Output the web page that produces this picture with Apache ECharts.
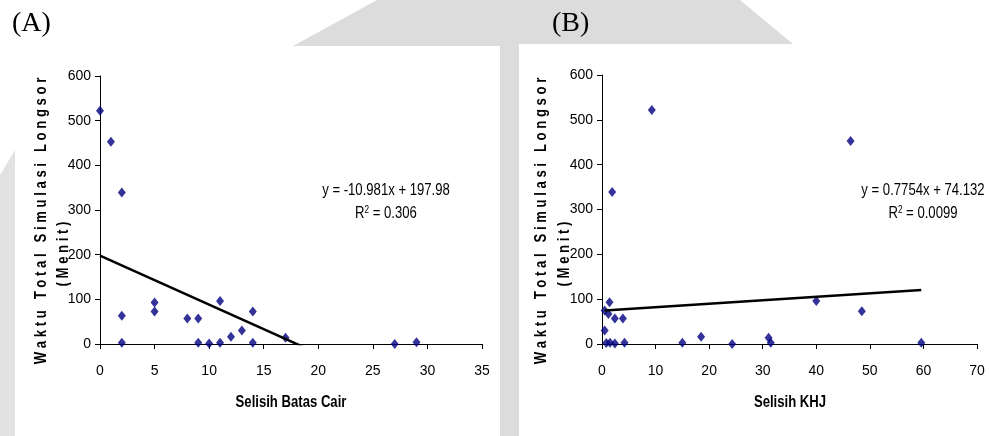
<!DOCTYPE html>
<html>
<head>
<meta charset="utf-8">
<script src="https://cdn.jsdelivr.net/npm/echarts@6/dist/echarts.min.js"></script>
<style>
  html, body { margin: 0; padding: 0; background: #ffffff; }
  #chart { width: 989px; height: 436px; }
</style>
</head>
<body>
<div id="chart"></div>
<script>
// Panel A: Selisih Batas Cair vs waktu longsor
const batasCairX = [0, 1, 2, 2, 2, 5, 5, 8, 9, 9, 10, 11, 11, 12, 13, 14, 14, 17, 27, 29];
const batasCairY = [522, 453, 339, 63, 3, 93, 73, 57, 57, 3, 1, 96, 3, 16, 30, 73, 3, 14, 0, 4];
const trendA = { slope: -10.981, intercept: 197.98, r2: '0.306' };

// Panel B: Selisih KHJ vs waktu longsor
const khjX = [9.3, 46.4, 1.9, 40, 48.5, 59.6, 31.1, 31.5, 24.3, 18.5, 15, 4.2, 2.4, 3.9, 0.5, 1.4, 1.2, 0.5, 0.8, 1.5, 2.4];
const khjY = [522, 453, 339, 96, 73, 3, 14, 3, 0, 16, 3, 3, 57, 57, 75, 93, 67, 30, 2, 3, 1];
const trendB = { slope: 0.7754, intercept: 74.132, r2: '0.0099' };

// Axis settings
const yTicks = { min: 0, max: 600, interval: 100 };
const xTicksA = { min: 0, max: 35, interval: 5 };
const xTicksB = { min: 0, max: 70, interval: 10 };

const panelTitles = ['(A)', '(B)'];
const xNames = ['Selisih Batas Cair', 'Selisih KHJ'];
const yNameLine1 = 'Waktu Total Simulasi Longsor';
const yNameLine2 = '(Menit)';

const SANS = "'Liberation Sans', Arial, sans-serif";
const SERIF = "'Liberation Serif', 'Times New Roman', serif";
const NARROW_SCALE = 0.82;   // squeeze Arial-like text to a narrow face

function pairs(xs, ys) { return xs.map((x, i) => [x, ys[i]]); }
function trendPoints(xs, t) {
  const lo = Math.min(...xs), hi = Math.max(...xs);
  return [[lo, t.slope * lo + t.intercept], [hi, t.slope * hi + t.intercept]];
}
function spaced(s) { return s.split('').join(' '); }
function equation(t) {
  const sign = t.intercept >= 0 ? '+' : '-';
  return 'y = ' + t.slope + 'x ' + sign + ' ' + Math.abs(t.intercept);
}

const axisLine = { show: true, lineStyle: { color: '#000', width: 1 } };
const axisTick = { show: true, length: 5, lineStyle: { color: '#000', width: 1 } };
const labelStyle = { color: '#000', fontSize: 14, fontFamily: SANS };

function xAxis(idx, ticks) {
  return {
    type: 'value', gridIndex: idx, min: ticks.min, max: ticks.max, interval: ticks.interval,
    axisLine, axisTick, splitLine: { show: false },
    axisLabel: Object.assign({ margin: 20 }, labelStyle)
  };
}
function yAxis(idx) {
  return {
    type: 'value', gridIndex: idx, min: yTicks.min, max: yTicks.max, interval: yTicks.interval,
    axisLine, axisTick, splitLine: { show: false },
    axisLabel: Object.assign({ margin: 9 }, labelStyle)
  };
}
const marker = { symbol: 'diamond', symbolSize: [8, 10], itemStyle: { color: '#000080' } };
const trendStyle = { color: '#000', width: 2.5 };

function narrowText(x, y, text, opts) {
  const o = opts || {};
  return {
    type: 'text', x, y, z: 10, rotation: o.rotation || 0,
    scaleX: NARROW_SCALE,
    style: Object.assign({ text, align: 'center', verticalAlign: 'middle',
      font: (o.bold ? 'bold ' : '') + '16px ' + SANS, fill: '#000' }, o.style || {})
  };
}
function yTitle(cx1, cx2) {
  return [
    narrowText(cx1, 221, spaced(yNameLine1), { bold: true, rotation: Math.PI / 2 }),
    narrowText(cx2, 254, spaced(yNameLine2), { bold: true, rotation: Math.PI / 2 })
  ];
}
function eqText(cx, t) {
  return [
    narrowText(cx, 191, equation(t)),
    narrowText(cx, 214, 'R{sup|2} = ' + t.r2, {
      style: { rich: { sup: { fontSize: 10, fontFamily: SANS, verticalAlign: 'top', padding: [0, 0, 8, 0] } } }
    })
  ];
}

const chart = echarts.init(document.getElementById('chart'), null, { renderer: 'canvas' });
chart.setOption({
  animation: false,
  backgroundColor: '#ffffff',
  grid: [
    { left: 100, top: 76, width: 382, height: 268 },
    { left: 602, top: 75, width: 375, height: 269 }
  ],
  xAxis: [xAxis(0, xTicksA), xAxis(1, xTicksB)],
  yAxis: [yAxis(0), yAxis(1)],
  series: [
    Object.assign({ type: 'scatter', xAxisIndex: 0, yAxisIndex: 0, data: pairs(batasCairX, batasCairY) }, marker),
    { type: 'line', xAxisIndex: 0, yAxisIndex: 0, data: trendPoints(batasCairX, trendA),
      showSymbol: false, clip: true, lineStyle: trendStyle, z: 3 },
    Object.assign({ type: 'scatter', xAxisIndex: 1, yAxisIndex: 1, data: pairs(khjX, khjY) }, marker),
    { type: 'line', xAxisIndex: 1, yAxisIndex: 1, data: trendPoints(khjX, trendB),
      showSymbol: false, clip: true, lineStyle: trendStyle, z: 3 }
  ],
  graphic: [
    // light grey page backdrop bands
    { type: 'polygon', z: -10, silent: true, shape: { points: [[293, 46], [377, 0], [740, 0], [793, 44], [519, 44], [519, 436], [500, 436], [500, 46]] },
      style: { fill: '#dcdcdc' } },
    { type: 'polygon', z: -10, silent: true, shape: { points: [[0, 175], [15, 150], [15, 436], [0, 436]] },
      style: { fill: '#e2e2e2' } },
    { type: 'text', x: 12, y: 24, z: 10,
      style: { text: panelTitles[0], verticalAlign: 'middle', font: '28px ' + SERIF, fill: '#000' } },
    { type: 'text', x: 552, y: 24, z: 10,
      style: { text: panelTitles[1], verticalAlign: 'middle', font: '28px ' + SERIF, fill: '#000' } },
    narrowText(291, 403, xNames[0], { bold: true }),
    narrowText(790, 403, xNames[1], { bold: true }),
    ...yTitle(42, 64),
    ...yTitle(542, 565),
    ...eqText(386, trendA),
    ...eqText(923, trendB)
  ]
});
</script>
</body>
</html>
